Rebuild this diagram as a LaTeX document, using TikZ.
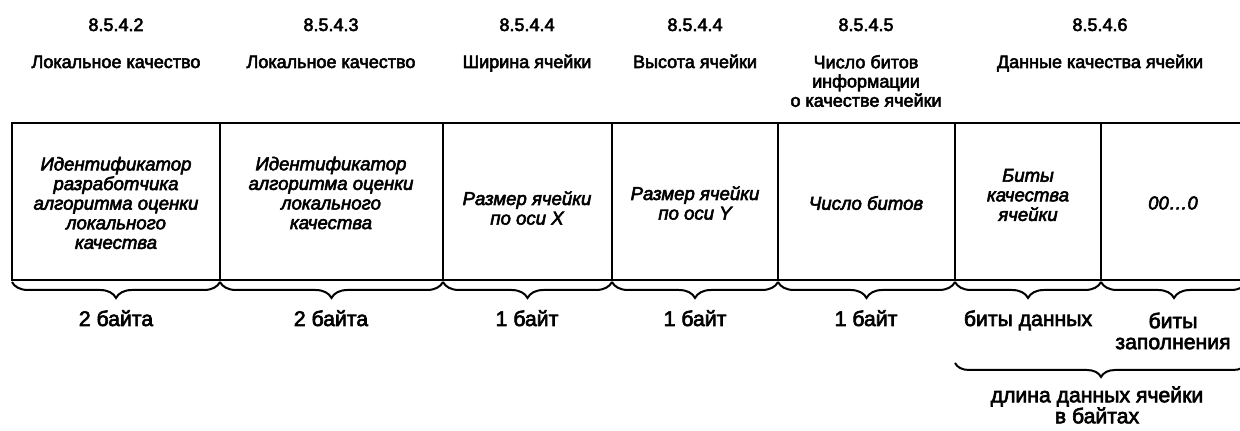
\documentclass[tikz,border=0pt]{standalone}
\usepackage{fontspec}
\setmainfont{Liberation Sans}[FakeBold=3]
\usetikzlibrary{decorations.pathreplacing}
\tikzset{
  boxline/.style={line width=1.2pt},
  refnum/.style={font=\fontsize{9}{10}\selectfont, anchor=base},
  title/.style={font=\fontsize{9}{9.6}\selectfont, align=center},
  fieldtext/.style={font=\fontsize{9.3}{9.8}\selectfont\itshape, align=center},
  sizelabel/.style={font=\fontsize{10.6}{10.5}\selectfont, align=center},
  sizebrace/.style={decorate, decoration={brace, mirror, amplitude=8pt}, line width=1pt},
}
\begin{document}
\begin{tikzpicture}[x=0.5pt,y=-0.5pt]
\useasboundingbox (0,0) rectangle (1240,431);
\clip (0,0) rectangle (1240,431);
\coordinate (d0) at (12,282);
\coordinate (d1) at (220,282);
\coordinate (d2) at (443,282);
\coordinate (d3) at (612,282);
\coordinate (d4) at (778,282);
\coordinate (d5) at (955,282);
\coordinate (d6) at (1101,282);
\coordinate (d7) at (1247,282);
\coordinate (e5) at (955,363);
\coordinate (e7) at (1247,363);
\draw[boxline] (1250,123) -- (12,123) -- (12,280) -- (1250,280);
\foreach \x in {220,443,612,778,955,1101}
  \draw[boxline] (\x,123) -- (\x,280);
\node[refnum] (r1) at (116,31) {8.5.4.2};
\node[refnum] (r2) at (331,31) {8.5.4.3};
\node[refnum] (r3) at (527,31) {8.5.4.4};
\node[refnum] (r4) at (695,31) {8.5.4.4};
\node[refnum] (r5) at (866,31) {8.5.4.5};
\node[refnum] (r6) at (1100,31) {8.5.4.6};
\node[title, anchor=base] (t1) at (116,68) {Локальное качество};
\node[title, anchor=base] (t2) at (331,68) {Локальное качество};
\node[title, anchor=base] (t3) at (527,68) {Ширина ячейки};
\node[title, anchor=base] (t4) at (695,68) {Высота ячейки};
\node[title] (t5) at (866,81) {Число битов\\информации\\о качестве ячейки};
\node[title, anchor=base] (t6) at (1100,68) {Данные качества ячейки};
\node[fieldtext] (f1) at (116,203) {Идентификатор\\разработчика\\алгоритма оценки\\локального\\качества};
\node[fieldtext] (f2) at (331,193) {Идентификатор\\алгоритма оценки\\локального\\качества};
\node[fieldtext] (f3) at (527,208) {Размер ячейки\\по оси X};
\node[fieldtext] (f4) at (695,203) {Размер ячейки\\по оси Y};
\node[fieldtext] (f5) at (866,203) {Число битов};
\node[fieldtext] (f6) at (1028,195) {Биты\\качества\\ячейки};
\node[fieldtext] (f7) at (1173,203) {00…0};
\draw[sizebrace] (d0) -- (d1);
\draw[sizebrace] (d1) -- (d2);
\draw[sizebrace] (d2) -- (d3);
\draw[sizebrace] (d3) -- (d4);
\draw[sizebrace] (d4) -- (d5);
\draw[sizebrace] (d5) -- (d6);
\draw[sizebrace] (d6) -- (d7);
\draw[sizebrace, decoration={amplitude=7pt}] (e5) -- (e7);
\node[sizelabel, anchor=base] (s1) at (116,326) {2 байта};
\node[sizelabel, anchor=base] (s2) at (331,326) {2 байта};
\node[sizelabel, anchor=base] (s3) at (527,326) {1 байт};
\node[sizelabel, anchor=base] (s4) at (695,326) {1 байт};
\node[sizelabel, anchor=base] (s5) at (866,326) {1 байт};
\node[sizelabel, anchor=base] (s6) at (1028,326) {биты данных};
\node[sizelabel] (s7) at (1173,331) {биты\\заполнения};
\node[sizelabel] (s8) at (1097,405) {длина данных ячейки\\в байтах};
\end{tikzpicture}
\end{document}
